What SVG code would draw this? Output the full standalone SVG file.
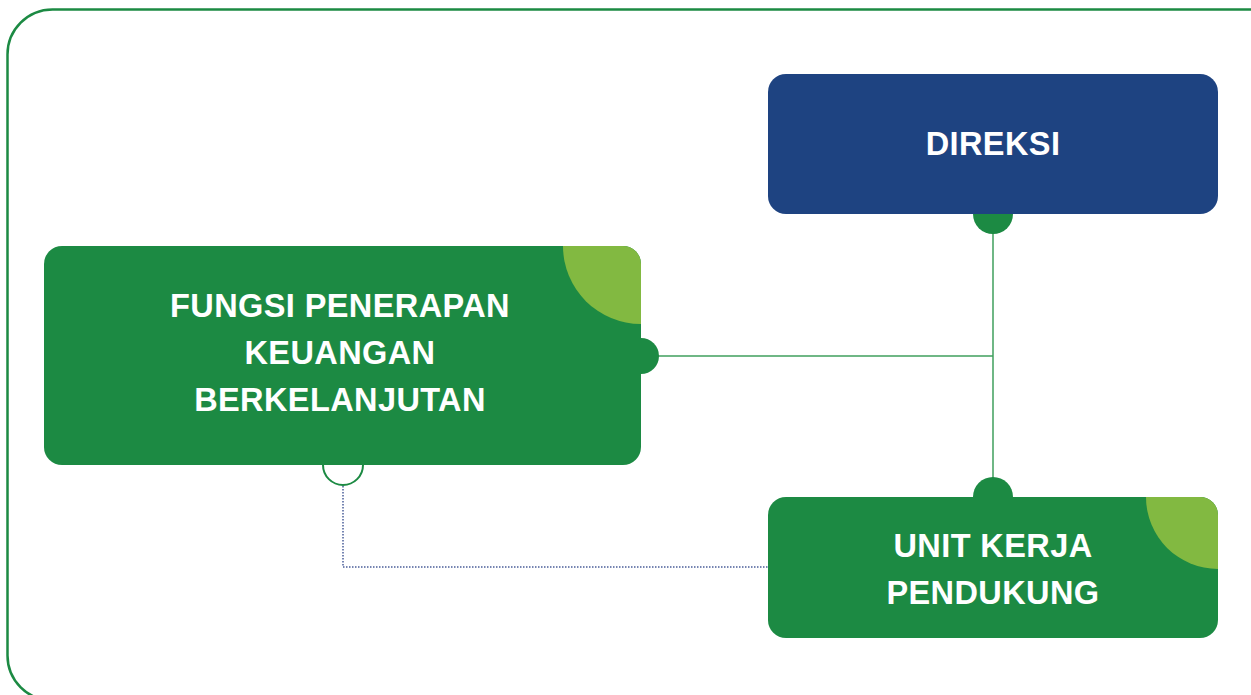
<svg xmlns="http://www.w3.org/2000/svg" width="1251" height="695" viewBox="0 0 1251 695">
<style>
.lbl{font-family:"Liberation Sans",Arial,sans-serif;font-weight:bold;font-size:32.5px;fill:#ffffff;text-anchor:middle;letter-spacing:0.4px}
.g{fill:#1c8a43}
.lg{fill:#82b941}
.conn{stroke:#3f9f5c;stroke-width:1.5;fill:none}
.dot{stroke:#4a5e99;stroke-width:1.5;fill:none;stroke-dasharray:1.5 1.5}
</style>
<defs>
<clipPath id="cf"><rect x="44" y="246" width="597" height="219" rx="18"/></clipPath>
<clipPath id="cu"><rect x="768" y="497" width="450" height="141" rx="18"/></clipPath>
</defs>
<rect x="7.5" y="9.5" width="1300" height="691" rx="45" fill="none" stroke="#1c8a43" stroke-width="2.5"/>
<g id="connectors">
<line class="conn" x1="993" y1="230" x2="993" y2="480"/>
<line class="conn" x1="655" y1="356" x2="993" y2="356"/>
<polyline class="dot" points="343,486 343,567 768,567"/>
</g>
<g id="direksi">
<circle class="g" cx="993" cy="214" r="20"/>
<rect x="768" y="74" width="450" height="140" rx="18" fill="#1e4381"/>
<text class="lbl" x="993" y="155">DIREKSI</text>
</g>
<g id="fungsi">
<circle cx="343" cy="465" r="20" fill="#ffffff" stroke="#1c8a43" stroke-width="2"/>
<circle class="g" cx="641" cy="356" r="18"/>
<rect class="g" x="44" y="246" width="597" height="219" rx="18"/>
<circle class="lg" cx="641" cy="246" r="78" clip-path="url(#cf)"/>
<text class="lbl" x="340" y="317">FUNGSI PENERAPAN</text>
<text class="lbl" x="340" y="364">KEUANGAN</text>
<text class="lbl" x="340" y="411">BERKELANJUTAN</text>
</g>
<g id="unit">
<circle class="g" cx="993" cy="497" r="20"/>
<rect class="g" x="768" y="497" width="450" height="141" rx="18"/>
<circle class="lg" cx="1218" cy="497" r="72" clip-path="url(#cu)"/>
<text class="lbl" x="993" y="557">UNIT KERJA</text>
<text class="lbl" x="993" y="604">PENDUKUNG</text>
</g>
</svg>
